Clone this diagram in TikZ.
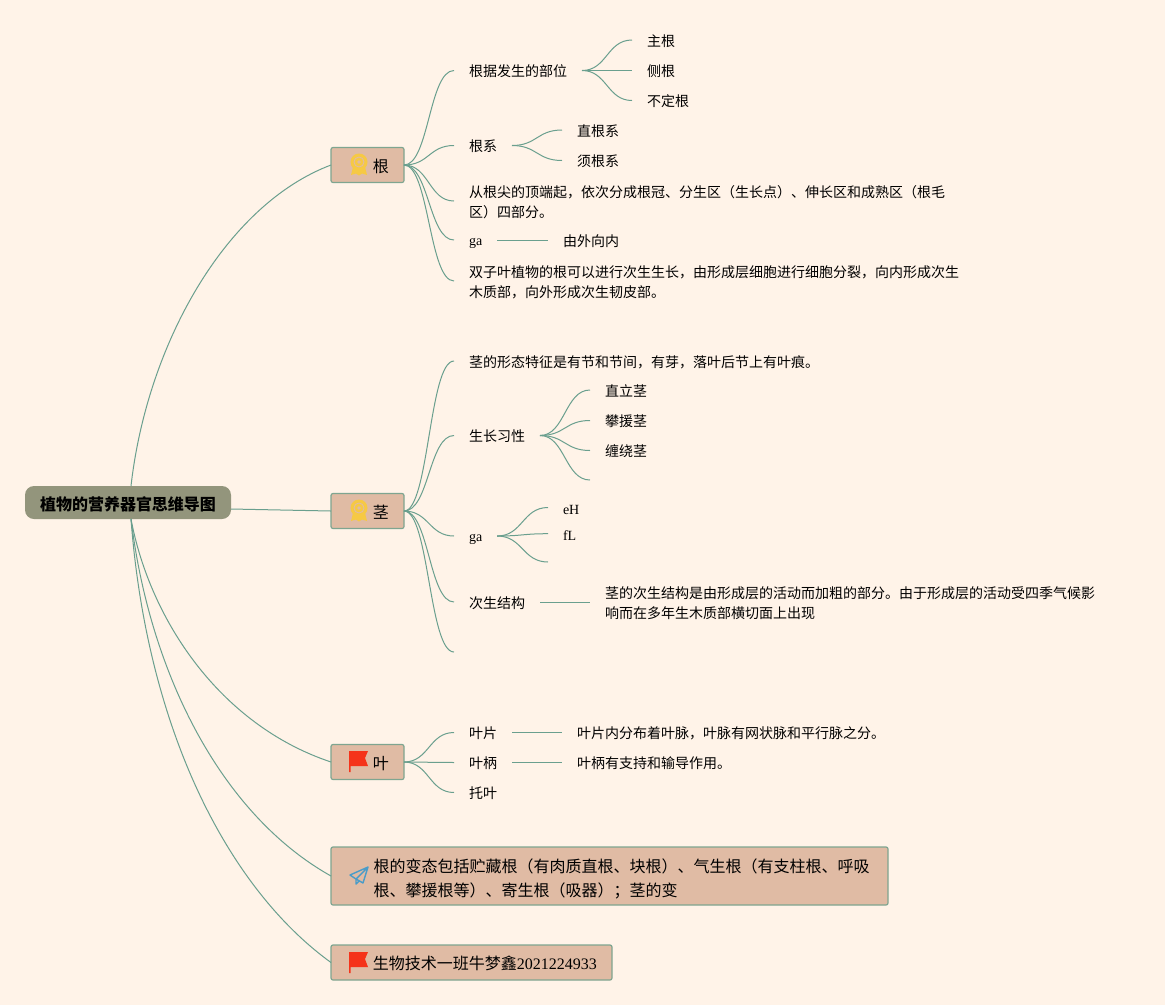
\documentclass[tikz,border=0pt]{standalone}
\usepackage{fontspec}
\setmainfont{Liberation Serif}
\newfontfamily\cjk{Noto Sans CJK SC}
\usetikzlibrary{calc}
\definecolor{bgc}{HTML}{FFF3E8}
\definecolor{topicfill}{HTML}{E0BBA4}
\definecolor{topicline}{HTML}{7FA590}
\definecolor{rootfill}{HTML}{93957C}
\definecolor{linkc}{HTML}{6A9F8E}
\definecolor{medalc}{HTML}{F6C944}
\definecolor{flagc}{HTML}{F5331A}
\definecolor{planec}{HTML}{4A9CC8}
\tikzset{
  x=1pt,y=-1pt,
  link/.style={draw=linkc,line width=1pt},
  leaf/.style={anchor=west,inner xsep=15pt,inner ysep=0pt,outer sep=0pt,align=left,font=\fontsize{14}{20.5}\selectfont\cjk,text=black},
  paraleaf/.style={leaf,font=\fontsize{14}{20}\selectfont\cjk},
  latinleaf/.style={leaf,font=\fontsize{14}{20.5}\selectfont,text height=11pt,text depth=3pt},
  capleaf/.style={leaf,font=\fontsize{14}{20.5}\selectfont,text height=14pt,text depth=3pt},
  topic/.style={anchor=west,draw=topicline,fill=topicfill,line width=1.2pt,rounded corners=2pt,inner xsep=15pt,inner ysep=0pt,outer sep=0pt,align=left,font=\fontsize{16}{24}\selectfont,text=black},
  onetopic/.style={topic,minimum height=35pt,text height=16.4pt,text depth=2pt},
  rootbox/.style={anchor=west,draw=none,fill=rootfill,rounded corners=9pt,inner xsep=15pt,inner ysep=0pt,outer sep=0pt,minimum height=33pt,text height=17.5pt,text depth=2pt,font=\fontsize{16}{20}\selectfont\cjk\bfseries,text=black},
  flagicon/.pic={\fill[flagc] (-10,-11) -- (9,-11) -- (6,-4) -- (9,4) -- (-8.5,4) -- (-8.5,10) -- (-10,10) -- cycle;},
  medalicon/.pic={
    \fill[medalc] (-6,2) -- (-8,10) -- (-3,8.5) -- (0,10.5) -- (3,8.5) -- (8,10) -- (6,2) -- cycle;
    \fill[medalc] (0,-3) circle[radius=8.5];
    \draw[topicfill,line width=0.9pt] (0,-3) circle[radius=5];
    \fill[topicfill] (0,-3) circle[radius=1.8];},
  planeicon/.pic={\draw[planec,line width=1.4pt,line join=round] (9,-9) -- (-9,-1) -- (-3,3) -- (4,7) -- cycle (9,-9) -- (-3,3) -- (-3,8) -- (0,5);},
}
% \lnk: from a topic edge to a leaf edge; \lnkk: from a leaf edge to a leaf edge.
% Leaf text sits 1px below its connector line.
\newcommand\lnk[2]{\draw[link] let \p1=(#1),\p2=(#2) in (\p1) .. controls ({0.5*\x1+0.5*\x2},\y1) and ({0.5*\x1+0.5*\x2},\y2+1pt) .. (\x2,\y2+1pt);}
\newcommand\lnkk[2]{\draw[link] let \p1=(#1),\p2=(#2) in (\x1,\y1+1pt) .. controls ({0.5*\x1+0.5*\x2},\y1+1pt) and ({0.5*\x1+0.5*\x2},\y2+1pt) .. (\x2,\y2+1pt);}
\begin{document}
\begin{tikzpicture}
\fill[bgc] (0,0) rectangle (1165,1005);
\useasboundingbox (0,0) rectangle (1165,1005);
% root
\node[rootbox,minimum width=206pt] (root) at (25,502.5) {植物的营养器官思维导图};
\coordinate (rootT) at (131,486);
\coordinate (rootB) at (131,519);
\coordinate (rootR) at (231,509);
% topics
\node[onetopic,minimum width=73pt] (gen) at (331,165) {\hspace*{26.5pt}{\cjk 根}};
\node[onetopic,minimum width=73pt] (jing) at (331,511) {\hspace*{26.5pt}{\cjk 茎}};
\node[onetopic,minimum width=73pt] (ye) at (331,762) {\hspace*{26.5pt}{\cjk 叶}};
\node[topic,minimum width=557pt,minimum height=58pt] (bian) at (331,876) {\hspace*{26pt}\parbox[c][43.5pt][b]{498pt}{\cjk 根的变态包括贮藏根（有肉质直根、块根）、气生根（有支柱根、呼吸\\根、攀援根等）、寄生根（吸器）；茎的变}};
\node[onetopic,minimum width=281pt] (ban) at (331,962.5) {\hspace*{26.5pt}{\cjk 生物技术一班牛梦鑫}2021224933};
\pic at (359,165) {medalicon};
\pic at (359,511) {medalicon};
\pic at (359,762) {flagicon};
\pic at (359,876) {planeicon};
\pic at (359,963) {flagicon};
% root links
\draw[link] (rootT) .. controls (147,345) and (225,205) .. (gen.west);
\draw[link] (rootR) -- (jing.west);
\draw[link] (rootB) .. controls (150,620) and (220,725) .. (ye.west);
\draw[link] (rootB) .. controls (150,675) and (222,815) .. (bian.west);
\draw[link] (rootB) .. controls (147,730) and (228,888) .. (ban.west);
% gen branch
\node[leaf] (g1) at (454,71.5) {根据发生的部位};
\node[leaf] (g11) at (632,41) {主根};
\node[leaf] (g12) at (632,71.5) {侧根};
\node[leaf] (g13) at (632,101.5) {不定根};
\node[leaf] (g2) at (454,146.5) {根系};
\node[leaf] (g21) at (562,131) {直根系};
\node[leaf] (g22) at (562,161.5) {须根系};
\node[paraleaf] (g3) at (454,202) {从根尖的顶端起，依次分成根冠、分生区（生长点）、伸长区和成熟区（根毛\\区）四部分。};
\node[latinleaf] (g4) at (454,241) {ga};
\node[leaf] (g41) at (548,241) {由外向内};
\node[paraleaf] (g5) at (454,282) {双子叶植物的根可以进行次生生长，由形成层细胞进行细胞分裂，向内形成次生\\木质部，向外形成次生韧皮部。};
\foreach \t in {g1,g2,g3,g4,g5} {\lnk{gen.east}{\t.west}}
\foreach \t in {g11,g12,g13} {\lnkk{g1.east}{\t.west}}
\foreach \t in {g21,g22} {\lnkk{g2.east}{\t.west}}
\lnkk{g4.east}{g41.west}
% jing branch
\node[leaf] (j1) at (454,362) {茎的形态特征是有节和节间，有芽，落叶后节上有叶痕。};
\node[leaf] (j2) at (454,436.5) {生长习性};
\node[leaf] (j21) at (590,391) {直立茎};
\node[leaf] (j22) at (590,421.5) {攀援茎};
\node[leaf] (j23) at (590,451.5) {缠绕茎};
\coordinate (j24) at (590,481);
\node[latinleaf] (j3) at (454,537) {ga};
\node[capleaf] (j31) at (548,508.5) {eH};
\node[capleaf] (j32) at (548,534.7) {fL};
\coordinate (j33) at (548,563);
\node[leaf] (j4) at (454,603) {次生结构};
\node[leaf] (j41) at (590,603) {茎的次生结构是由形成层的活动而加粗的部分。由于形成层的活动受四季气候影\\响而在多年生木质部横切面上出现};
\coordinate (j5) at (454,653);
\foreach \t in {j1.west,j2.west,j3.west,j4.west,j5} {\lnk{jing.east}{\t}}
\foreach \t in {j21.west,j22.west,j23.west,j24} {\lnkk{j2.east}{\t}}
\foreach \t in {j31.west,j32.west,j33} {\lnkk{j3.east}{\t}}
\lnkk{j4.east}{j41.west}
% ye branch
\node[leaf] (y1) at (454,733.5) {叶片};
\node[leaf] (y11) at (562,733.5) {叶片内分布着叶脉，叶脉有网状脉和平行脉之分。};
\node[leaf] (y2) at (454,763.5) {叶柄};
\node[leaf] (y21) at (562,763.5) {叶柄有支持和输导作用。};
\node[leaf] (y3) at (454,793.5) {托叶};
\foreach \t in {y1,y2,y3} {\lnk{ye.east}{\t.west}}
\lnkk{y1.east}{y11.west}
\lnkk{y2.east}{y21.west}
\end{tikzpicture}
\end{document}
